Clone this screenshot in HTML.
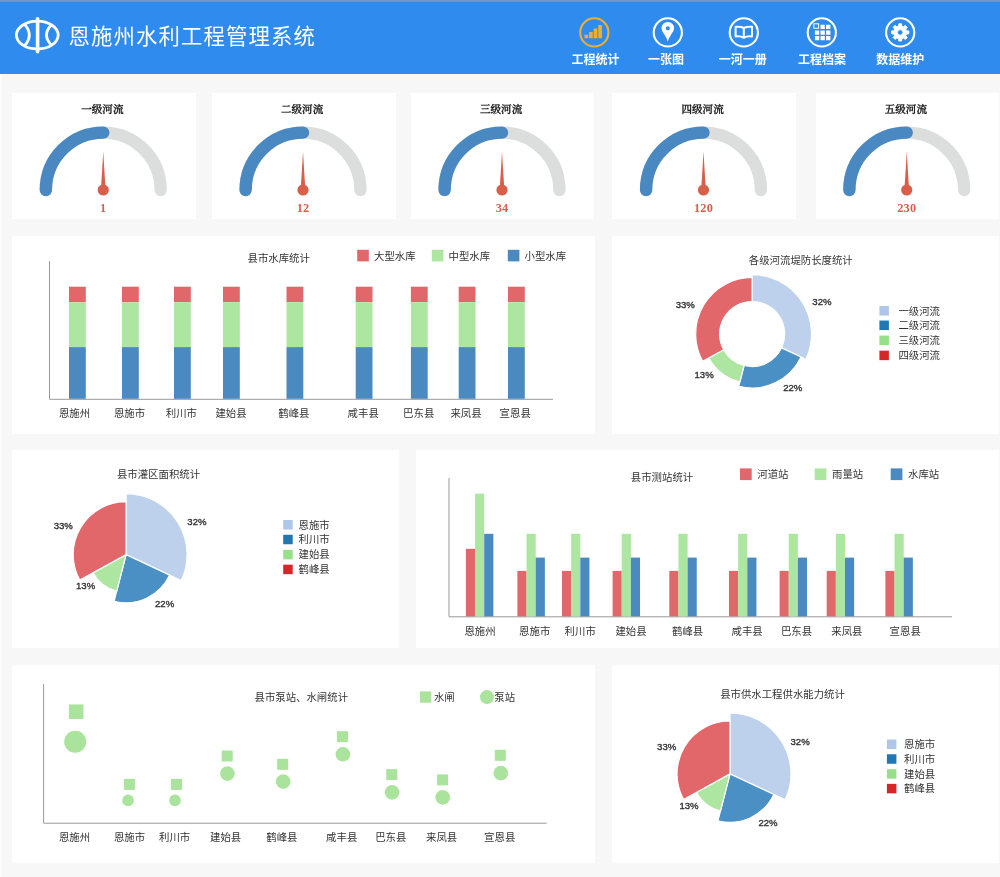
<!DOCTYPE html>
<html lang="zh-CN">
<head>
<meta charset="utf-8">
<title>恩施州水利工程管理系统</title>
<style>
*{box-sizing:border-box}
html,body{margin:0;padding:0}
body{width:1000px;height:877px;overflow:hidden;background:#f7f7f8;position:relative;font-family:"Liberation Serif","Noto Serif CJK SC",serif;color:#000}
header{position:absolute;left:0;top:0;width:1000px;height:74px;background:#2f8cee}
header .top{position:absolute;left:0;top:0;width:1000px;height:2px;background:linear-gradient(#7a97c0,#5b93d6)}
header h1{position:absolute;left:68.400px;top:1px;margin:0;height:74px;line-height:73px;font-size:21.400px;font-weight:400;color:#fff;white-space:nowrap;letter-spacing:1.130px;font-family:"Liberation Sans","Noto Sans CJK SC",sans-serif}
header .logo{position:absolute;left:0;top:0}
nav svg.icons{position:absolute;left:0;top:0}
.edge{position:absolute;left:0;top:74px;width:2px;height:803px;background:#fbfbfc}
.card{position:absolute;background:#fff;overflow:hidden}
.card svg{display:block}
text{font-family:"Liberation Sans","Noto Sans CJK SC",sans-serif;font-size:10.4px;fill:#333}
text.nl{font-size:12px;font-weight:700;fill:#fff}
text.gt{font-family:"Liberation Serif","Noto Serif CJK SC",serif;font-weight:500;font-size:10.600px;fill:#111;stroke:#111;stroke-width:.3px}
text.gv{font-family:"Liberation Serif","Noto Serif CJK SC",serif;font-weight:700;font-size:12.300px;letter-spacing:.2px;fill:#d8604b}
text.p{font-size:9.600px;font-weight:400;fill:#333;stroke:#333;stroke-width:.35px}
</style>
</head>
<body>
<div class="edge"></div>
<header>
<div class="top"></div>
<svg class="logo" width="70" height="74" viewBox="0 0 70 74" fill="none" stroke="#fff" stroke-linecap="round">
<ellipse cx="37.3" cy="35.1" rx="20.9" ry="13.9" stroke-width="2.8"/>
<path d="M37.6 18.700V51.800" stroke-width="3.600"/>
<path d="M24.8 24.6Q33.800 35 24.8 45.4" stroke-width="2.800"/>
<path d="M51 25.2Q42 35 51 44.6" stroke-width="2.800"/>
</svg>
<h1>恩施州水利工程管理系统</h1>
<nav>
<svg class="icons" width="1000" height="74" viewBox="0 0 1000 74">
<a>
<g transform="translate(594.3 32.4)"><circle cx="0" cy="0" r="14.100" fill="none" stroke="#f0ad2e" stroke-width="2.100"/><path fill="#f0ad2e" d="M-9.8 2.4h3.700v3.5h-3.700zM-5.200 -0.4h3.700v6.3h-3.700zM-0.600 -3.9h3.700v9.8h-3.700zM4 -7.4h3.700v13.3h-3.700z"/></g>
<text x="595.4" y="64.200" class="nl" text-anchor="middle">工程统计</text>
</a>
<a>
<g transform="translate(667.8 32.4)"><circle cx="0" cy="0" r="14.100" fill="none" stroke="#fff" stroke-width="2.100"/><path fill="#fff" fill-rule="evenodd" d="M0 -10.4a6.3 6.3 0 0 1 6.3 6.3c0 3.6-4.400 6.800-6.300 13.400c-1.900-6.600-6.300-9.800-6.300-13.400a6.3 6.300 0 0 1 6.300-6.300zM0 -6.200a2.100 2.100 0 1 0 0 4.200a2.100 2.100 0 1 0 0-4.200z"/></g>
<text x="666" y="64.200" class="nl" text-anchor="middle">一张图</text>
</a>
<a>
<g transform="translate(743.8 32.4)"><circle cx="0" cy="0" r="14.100" fill="none" stroke="#fff" stroke-width="2.100"/><path fill="none" stroke="#fff" stroke-width="2" stroke-linejoin="round" d="M0 -4.400c-2.400-1.300-5.200-1.600-8.200-1.200v9.600c3-.4 5.800-.1 8.200 1.400c2.400-1.500 5.200-1.800 8.200-1.400v-9.600c-3-.4-5.800-.1-8.200 1.200zM0 -4.400v9.800"/></g>
<text x="742.7" y="64.200" class="nl" text-anchor="middle">一河一册</text>
</a>
<a>
<g transform="translate(821.8 32.4)"><circle cx="0" cy="0" r="14.100" fill="none" stroke="#fff" stroke-width="2.100"/><path fill="#fff" d="M-1.3 -7.6h4.300v4.300h-4.300zM4.3 -7.6h4.300v4.300h-4.300zM-6.9 -2h4.300v4.300h-4.300zM-1.3 -2h4.300v4.300h-4.300zM4.3 -2h4.300v4.300h-4.300zM-6.9 3.6h4.300v4.300h-4.300zM-1.3 3.6h4.300v4.300h-4.300zM4.3 3.6h4.300v4.300h-4.300z"/><rect x="-8" y="-8.600" width="4.800" height="4.400" fill="none" stroke="#fff" stroke-width="1"/></g>
<text x="822" y="64.200" class="nl" text-anchor="middle">工程档案</text>
</a>
<a>
<g transform="translate(900.2 32.4)"><circle cx="0" cy="0" r="14.100" fill="none" stroke="#fff" stroke-width="2.100"/><path fill="#fff" fill-rule="evenodd" stroke="#fff" stroke-width="1" stroke-linejoin="round" d="M-1.57 -6.31L-1.36 -8.59L1.36 -8.59L1.57 -6.31L3.35 -5.57L5.11 -7.04L7.04 -5.11L5.57 -3.35L6.31 -1.57L8.59 -1.36L8.59 1.36L6.31 1.57L5.57 3.35L7.04 5.11L5.11 7.04L3.35 5.57L1.57 6.31L1.36 8.59L-1.36 8.59L-1.57 6.31L-3.35 5.57L-5.11 7.04L-7.04 5.11L-5.57 3.35L-6.31 1.57L-8.59 1.36L-8.59 -1.36L-6.31 -1.57L-5.57 -3.35L-7.04 -5.11L-5.11 -7.04L-3.35 -5.57ZM0 -2.800a2.800 2.800 0 1 0 0 5.600a2.800 2.800 0 1 0 0-5.600z"/></g>
<text x="900.2" y="64.200" class="nl" text-anchor="middle">数据维护</text>
</a>
</svg>
</nav>
</header>
<section class="card gauge" style="left:12px;top:93px;width:184px;height:126px">
<svg width="184" height="126" viewBox="12 93 184 126">
<text x="102.35" y="113" class="gt" text-anchor="middle">一级河流</text>
<path d="M45.85 190A57.4 57.4 0 0 1 160.65 190" fill="none" stroke="#dcdddd" stroke-width="12.400" stroke-linecap="round"/>
<path d="M45.85 190A57.4 57.4 0 0 1 103.25 132.6" fill="none" stroke="#4a88c1" stroke-width="12.400" stroke-linecap="round"/>
<path d="M103.25 151.400L104.35 170L105.45 187L101.05 187L102.15 170Z" fill="#d8604b"/>
<circle cx="103.25" cy="190" r="5.600" fill="#d8604b"/>
<text x="103.25" y="212" class="gv" text-anchor="middle">1</text>
</svg>
</section>
<section class="card gauge" style="left:212px;top:93px;width:184px;height:126px">
<svg width="184" height="126" viewBox="212 93 184 126">
<text x="302.1" y="113" class="gt" text-anchor="middle">二级河流</text>
<path d="M245.6 190A57.4 57.4 0 0 1 360.4 190" fill="none" stroke="#dcdddd" stroke-width="12.400" stroke-linecap="round"/>
<path d="M245.6 190A57.4 57.4 0 0 1 303 132.6" fill="none" stroke="#4a88c1" stroke-width="12.400" stroke-linecap="round"/>
<path d="M303 151.400L304.1 170L305.2 187L300.8 187L301.9 170Z" fill="#d8604b"/>
<circle cx="303" cy="190" r="5.600" fill="#d8604b"/>
<text x="303" y="212" class="gv" text-anchor="middle">12</text>
</svg>
</section>
<section class="card gauge" style="left:411px;top:93px;width:183px;height:126px">
<svg width="183" height="126" viewBox="411 93 183 126">
<text x="501.1" y="113" class="gt" text-anchor="middle">三级河流</text>
<path d="M444.6 190A57.4 57.4 0 0 1 559.4 190" fill="none" stroke="#dcdddd" stroke-width="12.400" stroke-linecap="round"/>
<path d="M444.6 190A57.4 57.4 0 0 1 502 132.6" fill="none" stroke="#4a88c1" stroke-width="12.400" stroke-linecap="round"/>
<path d="M502 151.400L503.1 170L504.2 187L499.8 187L500.9 170Z" fill="#d8604b"/>
<circle cx="502" cy="190" r="5.600" fill="#d8604b"/>
<text x="502" y="212" class="gv" text-anchor="middle">34</text>
</svg>
</section>
<section class="card gauge" style="left:612px;top:93px;width:184px;height:126px">
<svg width="184" height="126" viewBox="612 93 184 126">
<text x="702.6" y="113" class="gt" text-anchor="middle">四级河流</text>
<path d="M646.1 190A57.4 57.4 0 0 1 760.9 190" fill="none" stroke="#dcdddd" stroke-width="12.400" stroke-linecap="round"/>
<path d="M646.1 190A57.4 57.4 0 0 1 703.5 132.6" fill="none" stroke="#4a88c1" stroke-width="12.400" stroke-linecap="round"/>
<path d="M703.5 151.400L704.6 170L705.7 187L701.3 187L702.4 170Z" fill="#d8604b"/>
<circle cx="703.5" cy="190" r="5.600" fill="#d8604b"/>
<text x="703.5" y="212" class="gv" text-anchor="middle">120</text>
</svg>
</section>
<section class="card gauge" style="left:816px;top:93px;width:183px;height:126px">
<svg width="183" height="126" viewBox="816 93 183 126">
<text x="905.85" y="113" class="gt" text-anchor="middle">五级河流</text>
<path d="M849.35 190A57.4 57.4 0 0 1 964.15 190" fill="none" stroke="#dcdddd" stroke-width="12.400" stroke-linecap="round"/>
<path d="M849.35 190A57.4 57.4 0 0 1 906.75 132.6" fill="none" stroke="#4a88c1" stroke-width="12.400" stroke-linecap="round"/>
<path d="M906.75 151.400L907.85 170L908.95 187L904.55 187L905.65 170Z" fill="#d8604b"/>
<circle cx="906.75" cy="190" r="5.600" fill="#d8604b"/>
<text x="906.75" y="212" class="gv" text-anchor="middle">230</text>
</svg>
</section>
<section class="card" style="left:12px;top:236px;width:583px;height:198px">
<svg width="583" height="198" viewBox="12 236 583 198">
<path d="M49.500 261V399.300H553" fill="none" stroke="#999" stroke-width="1"/>
<rect x="69" y="286.700" width="16.800" height="15.500" fill="#e2676a"/>
<rect x="69" y="302.200" width="16.800" height="44.900" fill="#ade6a0"/>
<rect x="69" y="347.100" width="16.800" height="51.700" fill="#4b8ac0"/>
<rect x="122" y="286.700" width="16.800" height="15.500" fill="#e2676a"/>
<rect x="122" y="302.200" width="16.800" height="44.900" fill="#ade6a0"/>
<rect x="122" y="347.100" width="16.800" height="51.700" fill="#4b8ac0"/>
<rect x="174" y="286.700" width="16.800" height="15.500" fill="#e2676a"/>
<rect x="174" y="302.200" width="16.800" height="44.900" fill="#ade6a0"/>
<rect x="174" y="347.100" width="16.800" height="51.700" fill="#4b8ac0"/>
<rect x="223" y="286.700" width="16.800" height="15.500" fill="#e2676a"/>
<rect x="223" y="302.200" width="16.800" height="44.900" fill="#ade6a0"/>
<rect x="223" y="347.100" width="16.800" height="51.700" fill="#4b8ac0"/>
<rect x="286.5" y="286.700" width="16.800" height="15.500" fill="#e2676a"/>
<rect x="286.5" y="302.200" width="16.800" height="44.900" fill="#ade6a0"/>
<rect x="286.5" y="347.100" width="16.800" height="51.700" fill="#4b8ac0"/>
<rect x="355.7" y="286.700" width="16.800" height="15.500" fill="#e2676a"/>
<rect x="355.7" y="302.200" width="16.800" height="44.900" fill="#ade6a0"/>
<rect x="355.7" y="347.100" width="16.800" height="51.700" fill="#4b8ac0"/>
<rect x="410.9" y="286.700" width="16.800" height="15.500" fill="#e2676a"/>
<rect x="410.9" y="302.200" width="16.800" height="44.900" fill="#ade6a0"/>
<rect x="410.9" y="347.100" width="16.800" height="51.700" fill="#4b8ac0"/>
<rect x="458.7" y="286.700" width="16.800" height="15.500" fill="#e2676a"/>
<rect x="458.7" y="302.200" width="16.800" height="44.900" fill="#ade6a0"/>
<rect x="458.7" y="347.100" width="16.800" height="51.700" fill="#4b8ac0"/>
<rect x="508" y="286.700" width="16.800" height="15.500" fill="#e2676a"/>
<rect x="508" y="302.200" width="16.800" height="44.900" fill="#ade6a0"/>
<rect x="508" y="347.100" width="16.800" height="51.700" fill="#4b8ac0"/>
<text x="74.5" y="417.4" class="t" text-anchor="middle">恩施州</text>
<text x="129.5" y="417.4" class="t" text-anchor="middle">恩施市</text>
<text x="181.4" y="417.4" class="t" text-anchor="middle">利川市</text>
<text x="231" y="417.4" class="t" text-anchor="middle">建始县</text>
<text x="293.9" y="417.4" class="t" text-anchor="middle">鹤峰县</text>
<text x="363.2" y="417.4" class="t" text-anchor="middle">咸丰县</text>
<text x="418.7" y="417.4" class="t" text-anchor="middle">巴东县</text>
<text x="466" y="417.4" class="t" text-anchor="middle">来凤县</text>
<text x="515.2" y="417.4" class="t" text-anchor="middle">宣恩县</text>
<text x="278.7" y="261.6" class="t" text-anchor="middle">县市水库统计</text>
<rect x="357.2" y="249.800" width="11.600" height="11.600" fill="#e2676a"/>
<text x="374" y="259.6" class="t" text-anchor="start">大型水库</text>
<rect x="431.8" y="249.800" width="11.600" height="11.600" fill="#ade6a0"/>
<text x="448.6" y="259.6" class="t" text-anchor="start">中型水库</text>
<rect x="507.8" y="249.800" width="11.600" height="11.600" fill="#4b8ac0"/>
<text x="524.6" y="259.6" class="t" text-anchor="start">小型水库</text>
</svg>
</section>
<section class="card" style="left:612px;top:236px;width:387px;height:198px">
<svg width="387" height="198" viewBox="612 236 387 198">
<text x="800.8" y="263.9" class="t" text-anchor="middle">各级河流堤防长度统计</text>
<path d="M752.15 274.6A59.4 59.4 0 0 1 805.9 359.29L781.56 347.84A32.5 32.5 0 0 0 752.15 301.5Z" fill="#bdd1ec" stroke="#fff" stroke-width="1.200" stroke-linejoin="round"/>
<path d="M801.01 356.99A54 54 0 0 1 738.72 386.3L744.07 365.48A32.5 32.5 0 0 0 781.56 347.84Z" fill="#4a90c5" stroke="#fff" stroke-width="1.200" stroke-linejoin="round"/>
<path d="M739.81 382.04A49.6 49.6 0 0 1 708.69 357.89L723.67 349.66A32.5 32.5 0 0 0 744.07 365.48Z" fill="#ade6a0" stroke="#fff" stroke-width="1.200" stroke-linejoin="round"/>
<path d="M702.64 361.22A56.5 56.5 0 0 1 752.15 277.5L752.15 301.5A32.5 32.5 0 0 0 723.67 349.66Z" fill="#e2676a" stroke="#fff" stroke-width="1.200" stroke-linejoin="round"/>
<text x="821.9" y="304.7" class="p" text-anchor="middle">32%</text>
<text x="792.8" y="391.3" class="p" text-anchor="middle">22%</text>
<text x="704.1" y="377.9" class="p" text-anchor="middle">13%</text>
<text x="685.3" y="307.7" class="p" text-anchor="middle">33%</text>
<rect x="879.4" y="306.05" width="9.500" height="9.500" fill="#aec7e8"/>
<text x="898.4" y="314.6" class="t" text-anchor="start">一级河流</text>
<rect x="879.4" y="320.55" width="9.500" height="9.500" fill="#1f77b4"/>
<text x="898.4" y="329.1" class="t" text-anchor="start">二级河流</text>
<rect x="879.4" y="335.55" width="9.500" height="9.500" fill="#98df8a"/>
<text x="898.4" y="344.1" class="t" text-anchor="start">三级河流</text>
<rect x="879.4" y="350.65" width="9.500" height="9.500" fill="#d62728"/>
<text x="898.4" y="359.2" class="t" text-anchor="start">四级河流</text>
</svg>
</section>
<section class="card" style="left:12px;top:450px;width:387px;height:198px">
<svg width="387" height="198" viewBox="12 450 387 198">
<text x="158.5" y="478.4" class="t" text-anchor="middle">县市灌区面积统计</text>
<path d="M126.1 554.6L126.1 493.6A61 61 0 0 1 181.29 580.57Z" fill="#bdd1ec" stroke="#fff" stroke-width="1.200" stroke-linejoin="round"/>
<path d="M126.1 554.6L169.71 575.12A48.2 48.2 0 0 1 114.11 601.29Z" fill="#4a90c5" stroke="#fff" stroke-width="1.200" stroke-linejoin="round"/>
<path d="M126.1 554.6L116.7 591.21A37.8 37.8 0 0 1 92.98 572.81Z" fill="#ade6a0" stroke="#fff" stroke-width="1.200" stroke-linejoin="round"/>
<path d="M126.1 554.6L79.74 580.08A52.9 52.9 0 0 1 126.1 501.7Z" fill="#e2676a" stroke="#fff" stroke-width="1.200" stroke-linejoin="round"/>
<text x="196.9" y="524.7" class="p" text-anchor="middle">32%</text>
<text x="164.6" y="606.7" class="p" text-anchor="middle">22%</text>
<text x="85.6" y="589.4" class="p" text-anchor="middle">13%</text>
<text x="63.3" y="529.4" class="p" text-anchor="middle">33%</text>
<rect x="283.2" y="520.05" width="9.500" height="9.500" fill="#aec7e8"/>
<text x="298.5" y="528.6" class="t" text-anchor="start">恩施市</text>
<rect x="283.2" y="534.75" width="9.500" height="9.500" fill="#1f77b4"/>
<text x="298.5" y="543.3" class="t" text-anchor="start">利川市</text>
<rect x="283.2" y="549.85" width="9.500" height="9.500" fill="#98df8a"/>
<text x="298.5" y="558.4" class="t" text-anchor="start">建始县</text>
<rect x="283.2" y="564.65" width="9.500" height="9.500" fill="#d62728"/>
<text x="298.5" y="573.2" class="t" text-anchor="start">鹤峰县</text>
</svg>
</section>
<section class="card" style="left:416px;top:450px;width:583px;height:198px">
<svg width="583" height="198" viewBox="416 450 583 198">
<path d="M449 478V616.800H952" fill="none" stroke="#999" stroke-width="1"/>
<rect x="465.9" y="548.8" width="9.15" height="67.6" fill="#e2676a"/>
<rect x="475.05" y="493.7" width="9.15" height="122.7" fill="#ade6a0"/>
<rect x="484.2" y="533.8" width="9.15" height="82.6" fill="#4b8ac0"/>
<rect x="517.4" y="570.9" width="9.15" height="45.5" fill="#e2676a"/>
<rect x="526.55" y="533.8" width="9.15" height="82.6" fill="#ade6a0"/>
<rect x="535.7" y="557.6" width="9.15" height="58.8" fill="#4b8ac0"/>
<rect x="562" y="570.9" width="9.15" height="45.5" fill="#e2676a"/>
<rect x="571.15" y="533.8" width="9.15" height="82.6" fill="#ade6a0"/>
<rect x="580.3" y="557.6" width="9.15" height="58.8" fill="#4b8ac0"/>
<rect x="612.6" y="570.9" width="9.15" height="45.5" fill="#e2676a"/>
<rect x="621.75" y="533.8" width="9.15" height="82.6" fill="#ade6a0"/>
<rect x="630.9" y="557.6" width="9.15" height="58.8" fill="#4b8ac0"/>
<rect x="669.3" y="570.9" width="9.15" height="45.5" fill="#e2676a"/>
<rect x="678.45" y="533.8" width="9.15" height="82.6" fill="#ade6a0"/>
<rect x="687.6" y="557.6" width="9.15" height="58.8" fill="#4b8ac0"/>
<rect x="729" y="570.9" width="9.15" height="45.5" fill="#e2676a"/>
<rect x="738.15" y="533.8" width="9.15" height="82.6" fill="#ade6a0"/>
<rect x="747.3" y="557.6" width="9.15" height="58.8" fill="#4b8ac0"/>
<rect x="779.6" y="570.9" width="9.15" height="45.5" fill="#e2676a"/>
<rect x="788.75" y="533.8" width="9.15" height="82.6" fill="#ade6a0"/>
<rect x="797.9" y="557.6" width="9.15" height="58.8" fill="#4b8ac0"/>
<rect x="826.7" y="570.9" width="9.15" height="45.5" fill="#e2676a"/>
<rect x="835.85" y="533.8" width="9.15" height="82.6" fill="#ade6a0"/>
<rect x="845" y="557.6" width="9.15" height="58.8" fill="#4b8ac0"/>
<rect x="885.4" y="570.9" width="9.15" height="45.5" fill="#e2676a"/>
<rect x="894.55" y="533.8" width="9.15" height="82.6" fill="#ade6a0"/>
<rect x="903.7" y="557.6" width="9.15" height="58.8" fill="#4b8ac0"/>
<text x="480" y="634.8" class="t" text-anchor="middle">恩施州</text>
<text x="534.7" y="634.8" class="t" text-anchor="middle">恩施市</text>
<text x="580.2" y="634.8" class="t" text-anchor="middle">利川市</text>
<text x="631" y="634.8" class="t" text-anchor="middle">建始县</text>
<text x="687.6" y="634.8" class="t" text-anchor="middle">鹤峰县</text>
<text x="747.1" y="634.8" class="t" text-anchor="middle">咸丰县</text>
<text x="796.5" y="634.8" class="t" text-anchor="middle">巴东县</text>
<text x="846.9" y="634.8" class="t" text-anchor="middle">来凤县</text>
<text x="905.2" y="634.8" class="t" text-anchor="middle">宣恩县</text>
<text x="662" y="480.7" class="t" text-anchor="middle">县市测站统计</text>
<rect x="740" y="468.400" width="11.700" height="11.700" fill="#e2676a"/>
<text x="757.3" y="478.2" class="t" text-anchor="start">河道站</text>
<rect x="814.7" y="468.400" width="11.700" height="11.700" fill="#ade6a0"/>
<text x="832" y="478.2" class="t" text-anchor="start">雨量站</text>
<rect x="890.7" y="468.400" width="11.700" height="11.700" fill="#4b8ac0"/>
<text x="908" y="478.2" class="t" text-anchor="start">水库站</text>
</svg>
</section>
<section class="card" style="left:12px;top:665px;width:583px;height:198px">
<svg width="583" height="198" viewBox="12 665 583 198">
<path d="M43.600 684V823.200H546.700" fill="none" stroke="#999" stroke-width="1"/>
<rect x="68.95" y="704.45" width="14.5" height="14.5" fill="#a9e39c"/>
<circle cx="75.2" cy="741.8" r="11" fill="#a9e39c"/>
<rect x="123.9" y="778.9" width="11" height="11" fill="#a9e39c"/>
<circle cx="128.1" cy="800.4" r="5.8" fill="#a9e39c"/>
<rect x="171" y="778.9" width="11" height="11" fill="#a9e39c"/>
<circle cx="175" cy="800.4" r="5.8" fill="#a9e39c"/>
<rect x="221.7" y="750.5" width="11" height="11" fill="#a9e39c"/>
<circle cx="227.4" cy="773.6" r="7.3" fill="#a9e39c"/>
<rect x="277.2" y="758.8" width="11" height="11" fill="#a9e39c"/>
<circle cx="283.2" cy="781.6" r="7.3" fill="#a9e39c"/>
<rect x="336.9" y="731.2" width="11" height="11" fill="#a9e39c"/>
<circle cx="342.9" cy="754.3" r="7.3" fill="#a9e39c"/>
<rect x="386.3" y="769.1" width="11" height="11" fill="#a9e39c"/>
<circle cx="392.1" cy="792.4" r="7.3" fill="#a9e39c"/>
<rect x="437" y="774.4" width="11" height="11" fill="#a9e39c"/>
<circle cx="442.7" cy="797.4" r="7.3" fill="#a9e39c"/>
<rect x="494.8" y="749.8" width="11" height="11" fill="#a9e39c"/>
<circle cx="500.8" cy="773.1" r="7.3" fill="#a9e39c"/>
<text x="74.5" y="841.3" class="t" text-anchor="middle">恩施州</text>
<text x="129.5" y="841.3" class="t" text-anchor="middle">恩施市</text>
<text x="174.6" y="841.3" class="t" text-anchor="middle">利川市</text>
<text x="225.6" y="841.3" class="t" text-anchor="middle">建始县</text>
<text x="281.9" y="841.3" class="t" text-anchor="middle">鹤峰县</text>
<text x="341.7" y="841.3" class="t" text-anchor="middle">咸丰县</text>
<text x="390.8" y="841.3" class="t" text-anchor="middle">巴东县</text>
<text x="441.6" y="841.3" class="t" text-anchor="middle">来凤县</text>
<text x="499.7" y="841.3" class="t" text-anchor="middle">宣恩县</text>
<text x="301.3" y="700.9" class="t" text-anchor="middle">县市泵站、水闸统计</text>
<rect x="420" y="691.400" width="11.300" height="11.300" fill="#a9e39c"/>
<text x="433.9" y="700.9" class="t" text-anchor="start">水闸</text>
<circle cx="487" cy="697.100" r="7" fill="#a9e39c"/>
<text x="494.3" y="700.9" class="t" text-anchor="start">泵站</text>
</svg>
</section>
<section class="card" style="left:612px;top:665px;width:387px;height:198px">
<svg width="387" height="198" viewBox="612 665 387 198">
<text x="782.5" y="697.9" class="t" text-anchor="middle">县市供水工程供水能力统计</text>
<path d="M730 773.9L730 712.9A61 61 0 0 1 785.19 799.87Z" fill="#bdd1ec" stroke="#fff" stroke-width="1.200" stroke-linejoin="round"/>
<path d="M730 773.9L773.79 794.51A48.4 48.4 0 0 1 717.96 820.78Z" fill="#4a90c5" stroke="#fff" stroke-width="1.200" stroke-linejoin="round"/>
<path d="M730 773.9L720.45 811.09A38.4 38.4 0 0 1 696.35 792.4Z" fill="#ade6a0" stroke="#fff" stroke-width="1.200" stroke-linejoin="round"/>
<path d="M730 773.9L683.56 799.43A53 53 0 0 1 730 720.9Z" fill="#e2676a" stroke="#fff" stroke-width="1.200" stroke-linejoin="round"/>
<text x="800.1" y="744.5" class="p" text-anchor="middle">32%</text>
<text x="768" y="826.3" class="p" text-anchor="middle">22%</text>
<text x="689" y="809.3" class="p" text-anchor="middle">13%</text>
<text x="666.7" y="749.5" class="p" text-anchor="middle">33%</text>
<rect x="886.9" y="739.55" width="9.500" height="9.500" fill="#aec7e8"/>
<text x="904" y="748.1" class="t" text-anchor="start">恩施市</text>
<rect x="886.9" y="754.25" width="9.500" height="9.500" fill="#1f77b4"/>
<text x="904" y="762.8" class="t" text-anchor="start">利川市</text>
<rect x="886.9" y="769.15" width="9.500" height="9.500" fill="#98df8a"/>
<text x="904" y="777.7" class="t" text-anchor="start">建始县</text>
<rect x="886.9" y="783.85" width="9.500" height="9.500" fill="#d62728"/>
<text x="904" y="792.4" class="t" text-anchor="start">鹤峰县</text>
</svg>
</section>
</body>
</html>
